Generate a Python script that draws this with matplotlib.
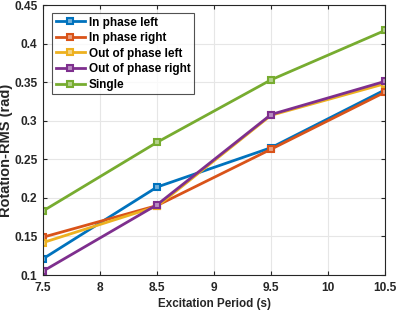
import matplotlib
matplotlib.use("Agg")
import matplotlib.pyplot as plt
import matplotlib.colors as mcolors

periods = [7.5, 8.5, 9.5, 10.5]
in_phase_left = [0.121, 0.214, 0.265, 0.340]
in_phase_right = [0.149, 0.190, 0.263, 0.337]
out_phase_left = [0.142, 0.189, 0.307, 0.348]
out_phase_right = [0.105, 0.191, 0.308, 0.351]
single = [0.183, 0.272, 0.353, 0.417]
labels = ["In phase left", "In phase right", "Out of phase left", "Out of phase right", "Single"]
colors = ["#0072BD", "#D95319", "#EDB120", "#7E2F8E", "#77AC30"]

plt.rcParams['font.family'] = ['Liberation Sans', 'DejaVu Sans']
plt.rcParams['font.weight'] = 'bold'

fig = plt.figure(figsize=(3.97, 3.10), dpi=100)
ax = fig.add_axes([43/397, 1-275/310, (385-43)/397, (275-5)/310])

for vals, lab, c in zip([in_phase_left, in_phase_right, out_phase_left, out_phase_right, single], labels, colors):
    rgb = mcolors.to_rgb(c)
    face = tuple(0.55*x + 0.45 for x in rgb)
    ax.plot(periods, vals, '-s', color=c, lw=2, ms=5, mfc=face, mec=c, mew=1.5, label=lab)

ax.set_xlim(7.5, 10.5)
ax.set_ylim(0.1, 0.45)
ax.set_xticks([7.5, 8, 8.5, 9, 9.5, 10, 10.5])
ax.set_xticklabels(["7.5", "8", "8.5", "9", "9.5", "10", "10.5"])
ax.set_yticks([0.1, 0.15, 0.2, 0.25, 0.3, 0.35, 0.4, 0.45])
ax.set_yticklabels(["0.1", "0.15", "0.2", "0.25", "0.3", "0.35", "0.4", "0.45"])
ax.grid(True, color='#e6e6e6', lw=0.8)
ax.set_axisbelow(True)
for s in ax.spines.values():
    s.set_color('#262626')
    s.set_linewidth(0.8)
ax.tick_params(direction='in', length=3, labelsize=8.6, colors='#262626', top=True, right=True,
               labeltop=False, labelright=False)
ax.tick_params(axis='x', pad=5)
ax.tick_params(axis='y', pad=4)
ax.set_xlabel("Excitation Period (s)", fontsize=8.4, fontweight='bold', color='#262626', labelpad=3)
ax.set_ylabel("Rotation-RMS (rad)", fontsize=10.5, fontweight='bold', color='#262626')
ax.yaxis.set_label_coords((13 - 43) / 342, (275 - 150) / 270)

leg = ax.legend(loc='upper left', fontsize=8.5, frameon=True, fancybox=False, edgecolor='#262626',
                bbox_to_anchor=(9/342, 1 - 8/270), borderaxespad=0.0,
                handlelength=2.5, labelspacing=0.3, borderpad=0.3, handletextpad=0.3)
leg.get_frame().set_linewidth(0.8)
for t in leg.get_texts():
    t.set_fontweight('bold')

fig.savefig("out.png", dpi=100)
